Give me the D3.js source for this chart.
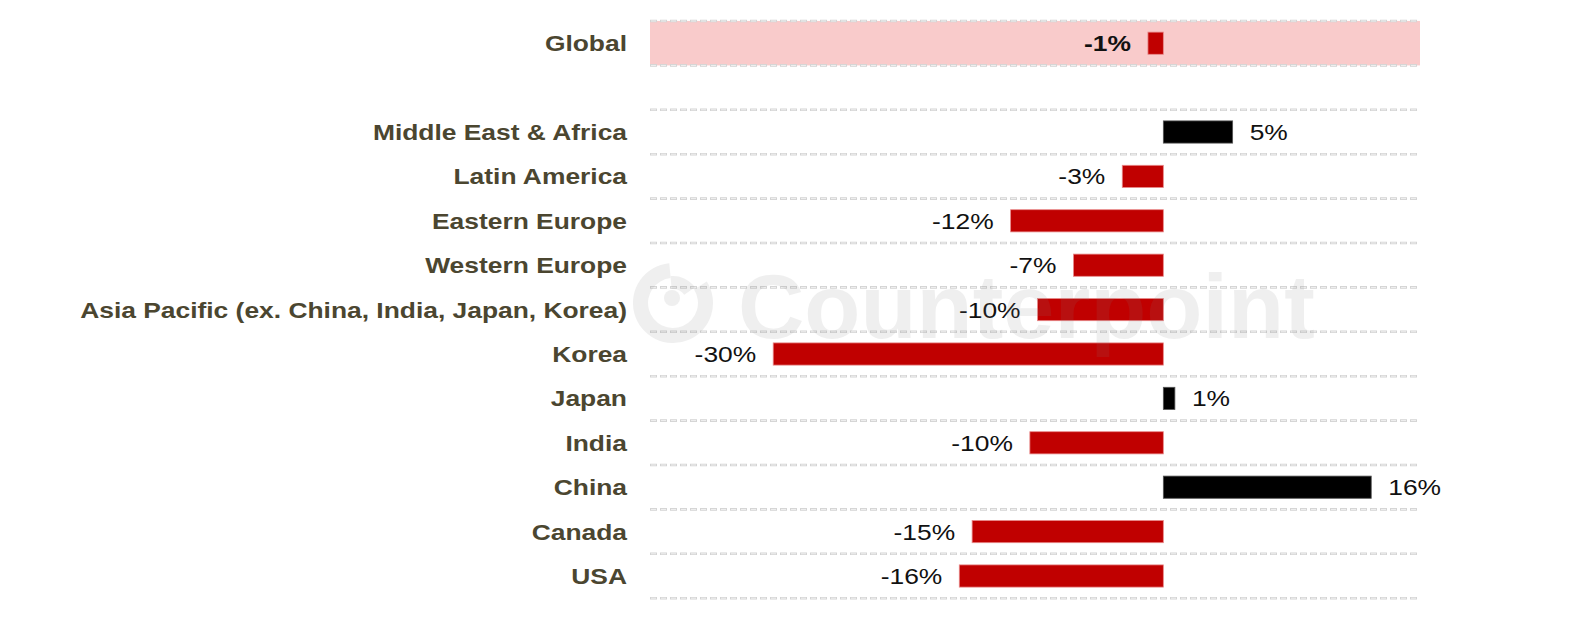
<!DOCTYPE html>
<html>
<head>
<meta charset="utf-8">
<script src="https://cdn.jsdelivr.net/npm/d3@7"></script>
<style>
  body { margin: 0; background: #fff; }
  svg { display: block; }
</style>
</head>
<body>
<div id="chart"></div>
<script>
// rows top to bottom; the empty one is the gap under Global
var categories = ["Global", "", "Middle East & Africa", "Latin America", "Eastern Europe",
  "Western Europe", "Asia Pacific (ex. China, India, Japan, Korea)", "Korea", "Japan",
  "India", "China", "Canada", "USA"];
var growth = [-1.2, null, 5.4, -3.2, -11.9, -7.0, -9.8, -30.4, 0.9, -10.4, 16.2, -14.9, -15.9];
var xDomain = [-40, 20];

var width = 1582, height = 624;
var plotL = 650, plotR = 1420, plotT = 21, plotB = 598.2;
var stretch = 1.2; // the source picture's text is widened

var svg = d3.select("#chart").append("svg")
  .attr("width", width).attr("height", height);

var x = d3.scaleLinear().domain(xDomain).range([plotL, plotR]);
var row = d3.scaleBand().domain(categories).range([plotT, plotB]);
var bar = d3.scaleBand().domain(categories).range([plotT, plotB])
  .paddingInner(0.5).paddingOuter(0.25);

var data = categories.map(function(c, i) { return { cat: c, v: growth[i] }; })
  .filter(function(d) { return d.v !== null; });

// highlight band behind Global
svg.append("rect")
  .attr("x", plotL).attr("y", row("Global"))
  .attr("width", plotR - plotL).attr("height", row.bandwidth())
  .style("fill", "#f9cbcb");

// dashed row separators (drawn twice to get the hollow dash look)
var lines = categories.map(function(c) { return row(c); }).concat([plotB]);
svg.append("g").selectAll("line").data(lines).enter().append("line")
  .attr("x1", plotL).attr("x2", plotR)
  .attr("y1", function(d) { return d; }).attr("y2", function(d) { return d; })
  .style("stroke", "#d4d4d4").style("stroke-width", 2.6)
  .style("stroke-dasharray", "7,3");
svg.append("g").selectAll("line").data(lines).enter().append("line")
  .attr("x1", plotL + 1).attr("x2", plotR)
  .attr("y1", function(d) { return d; }).attr("y2", function(d) { return d; })
  .style("stroke", "#f3f3f3").style("stroke-width", 0.9)
  .style("stroke-dasharray", "5,5");

// bars
svg.append("g").selectAll("rect").data(data).enter().append("rect")
  .attr("x", function(d) { return x(Math.min(0, d.v)); })
  .attr("y", function(d) { return bar(d.cat); })
  .attr("width", function(d) { return Math.abs(x(d.v) - x(0)); })
  .attr("height", bar.bandwidth())
  .style("fill", function(d) { return d.v < 0 ? "#c00000" : "#000"; })
  .style("stroke", function(d) { return d.v < 0 ? "#e88a8a" : "#555"; })
  .style("stroke-width", 0.8);

// value labels
svg.append("g").selectAll("text").data(data).enter().append("text")
  .attr("transform", function(d) {
    var tx = d.v < 0 ? x(d.v) - 17 : x(d.v) + 17;
    return "translate(" + tx + "," + (row(d.cat) + row.bandwidth() / 2) + ") scale(" + stretch + ",1)";
  })
  .attr("dy", "0.36em")
  .attr("text-anchor", function(d) { return d.v < 0 ? "end" : "start"; })
  .style("font-family", "'Liberation Sans', Arial, sans-serif")
  .style("font-size", "22px")
  .style("font-weight", function(d) { return d.cat === "Global" ? "bold" : "normal"; })
  .style("fill", "#111")
  .text(function(d) { return Math.round(d.v) + "%"; });

// category labels
svg.append("g").selectAll("text").data(categories.filter(function(c) { return c; }))
  .enter().append("text")
  .attr("transform", function(c) {
    return "translate(627," + (row(c) + row.bandwidth() / 2) + ") scale(" + stretch + ",1)";
  })
  .attr("dy", "0.36em")
  .attr("text-anchor", "end")
  .style("font-family", "'Liberation Sans', Arial, sans-serif")
  .style("font-size", "22px")
  .style("font-weight", "bold")
  .style("fill", "#4b4630")
  .text(function(c) { return c; });

// watermark on top, semi transparent
var wm = svg.append("g").style("opacity", 0.12).style("fill", "#808080");
wm.append("path")
  .attr("transform", "translate(673,303)")
  .attr("d", d3.arc().innerRadius(25).outerRadius(40)
    .startAngle(Math.PI * 0.32).endAngle(Math.PI * 1.97)());
wm.append("circle").attr("cx", 672).attr("cy", 298).attr("r", 8);
wm.append("path")
  .attr("transform", "translate(673,303)")
  .attr("d", d3.arc().innerRadius(14).outerRadius(27)
    .startAngle(-Math.PI * 0.03).endAngle(Math.PI * 0.3)());
wm.append("text")
  .attr("transform", "translate(738,338) scale(1.01,1)")
  .style("font-family", "'Liberation Sans', Arial, sans-serif")
  .style("font-size", "91px")
  .style("font-weight", "bold")
  .text("Counterpoint");
</script>
</body>
</html>
